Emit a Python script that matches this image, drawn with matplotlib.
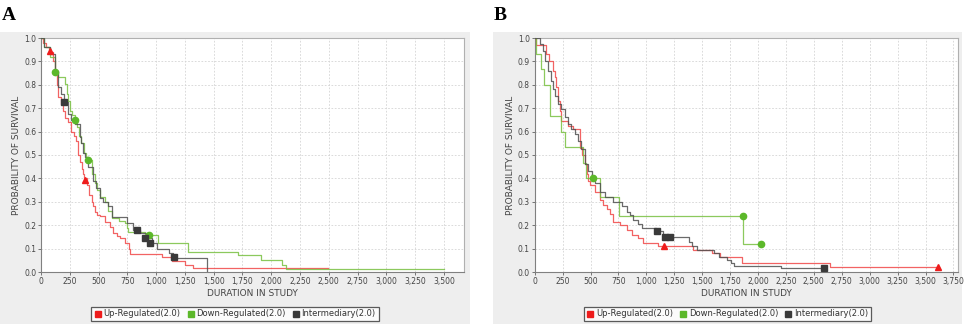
import numpy as np
import matplotlib
matplotlib.use("Agg")
import matplotlib.pyplot as plt
from matplotlib.lines import Line2D
from matplotlib.ticker import FuncFormatter, MultipleLocator

# ---- panel A : Kaplan-Meier steps (time, survival) ----
a_up_t = [0, 20, 45, 70, 100, 119, 136, 148, 170, 191, 210, 234, 263, 290, 307, 321, 340, 352, 362, 375,
          397, 420, 440, 455, 469, 490, 512, 556, 599, 628, 660, 686, 730, 760, 773, 1048, 1140, 1250, 1323, 2493]
a_up_s = [1.0, 0.98, 0.96, 0.94, 0.90, 0.84, 0.80, 0.75, 0.72, 0.69, 0.66, 0.64, 0.60, 0.58, 0.56, 0.50, 0.47, 0.44,
          0.42, 0.40, 0.37, 0.33, 0.30, 0.28, 0.258, 0.245, 0.24, 0.215, 0.194, 0.165, 0.155, 0.144, 0.122, 0.10,
          0.078, 0.062, 0.046, 0.032, 0.016, 0.016]
a_up_cens_t = [75, 382]
a_up_cens_s = [0.944, 0.393]

a_down_t = [0, 30, 80, 119, 148, 205, 222, 234, 249, 270, 292, 310, 330, 350, 370, 392, 411, 440, 465, 490,
            512, 560, 585, 614, 680, 729, 743, 758, 900, 1019, 1280, 1712, 1915, 2089, 2132, 3500]
a_down_s = [1.0, 0.96, 0.92, 0.856, 0.832, 0.803, 0.76, 0.73, 0.69, 0.67, 0.65, 0.62, 0.58, 0.55, 0.51, 0.49, 0.48,
            0.42, 0.38, 0.35, 0.32, 0.30, 0.26, 0.23, 0.22, 0.21, 0.19, 0.17, 0.158, 0.122, 0.087, 0.071, 0.053,
            0.028, 0.014, 0.014]
a_down_cens_t = [119, 292, 411, 941]
a_down_cens_s = [0.856, 0.65, 0.48, 0.158]

a_int_t = [0, 30, 80, 119, 148, 170, 200, 234, 262, 292, 336, 350, 365, 382, 410, 454, 480, 512, 540, 585, 614,
           744, 802, 860, 925, 960, 1005, 1114, 1150, 1438]
a_int_s = [1.0, 0.96, 0.93, 0.86, 0.79, 0.76, 0.728, 0.675, 0.65, 0.632, 0.575, 0.55, 0.51, 0.49, 0.45, 0.39, 0.36,
           0.315, 0.30, 0.28, 0.233, 0.208, 0.18, 0.165, 0.144, 0.125, 0.10, 0.08, 0.06, 0.0]
a_int_cens_t = [200, 837, 903, 947, 1158]
a_int_cens_s = [0.728, 0.18, 0.144, 0.125, 0.063]

# ---- panel B ----
b_up_t = [0, 10, 104, 131, 162, 179, 194, 209, 223, 238, 298, 343, 403, 410, 425, 450, 466, 480, 495, 540, 585,
          614, 645, 674, 704, 764, 824, 869, 928, 973, 1100, 1420, 1585, 1660, 1854, 2645, 3615]
b_up_s = [1.0, 0.97, 0.93, 0.90, 0.86, 0.832, 0.79, 0.73, 0.69, 0.647, 0.625, 0.611, 0.58, 0.53, 0.50, 0.46, 0.42,
          0.39, 0.37, 0.343, 0.308, 0.286, 0.27, 0.25, 0.215, 0.20, 0.18, 0.158, 0.144, 0.123, 0.111, 0.094, 0.08,
          0.063, 0.04, 0.02, 0.02]
b_up_cens_t = [1161, 3615]
b_up_cens_s = [0.111, 0.02]

b_down_t = [0, 10, 59, 83, 140, 238, 268, 437, 457, 585, 758, 1869, 2024]
b_down_s = [1.0, 0.933, 0.867, 0.80, 0.667, 0.60, 0.533, 0.467, 0.40, 0.32, 0.24, 0.12, 0.12]
b_down_cens_t = [519, 1869, 2024]
b_down_cens_s = [0.40, 0.24, 0.12]

b_int_t = [0, 45, 74, 90, 119, 149, 164, 179, 209, 238, 269, 298, 328, 358, 388, 417, 450, 480, 510, 540, 585,
           630, 704, 779, 824, 854, 883, 928, 958, 1085, 1150, 1382, 1412, 1457, 1606, 1651, 1726, 1756, 1785,
           2203, 2591]
b_int_s = [1.0, 0.974, 0.946, 0.90, 0.86, 0.818, 0.782, 0.753, 0.718, 0.697, 0.661, 0.632, 0.611, 0.59, 0.561,
           0.526, 0.46, 0.43, 0.41, 0.38, 0.343, 0.32, 0.30, 0.28, 0.258, 0.244, 0.222, 0.205, 0.19, 0.175, 0.151,
           0.13, 0.11, 0.095, 0.08, 0.065, 0.05, 0.04, 0.025, 0.015, 0.015]
b_int_cens_t = [1098, 1167, 1212, 2591]
b_int_cens_s = [0.175, 0.151, 0.151, 0.015]

group_names = ["Up-Regulated(2.0)", "Down-Regulated(2.0)", "Intermediary(2.0)"]
line_cols = ["#f04848", "#78c040", "#505050"]
mark_cols = ["#ee1c1c", "#5cb82a", "#3a3a3a"]
marks = ["^", "o", "s"]

W, H = 964, 324
fig = plt.figure(figsize=(W / 100, H / 100), dpi=100)
fig.patch.set_facecolor("white")


def fx(px):
    return px / W


def fy(py):
    return 1 - py / H


def panel(x0, x1, ax_l, ax_r, xmax, xtop, curves, letter):
    # grey chart background
    bg = fig.add_axes([fx(x0), 0, fx(x1 - x0), fy(32)], zorder=-10)
    bg.set_facecolor("#eeeeee")
    bg.set_xticks([])
    bg.set_yticks([])
    for sp in bg.spines.values():
        sp.set_visible(False)
    fig.text(fx(x0 + 2 if x0 == 0 else x0 + 1), fy(16), letter, family="Liberation Serif",
             weight="bold", fontsize=14, va="center", ha="left")
    ax = fig.add_axes([fx(ax_l), fy(272), fx(ax_r - ax_l), (272 - 38) / H])
    ax.set_facecolor("white")
    for i, (t, s, ct, cs) in enumerate(curves):
        ax.step(t, s, where="post", color=line_cols[i], lw=0.9, alpha=0.85, zorder=3)
        ax.plot(ct, cs, ls="none", marker=marks[i], color=mark_cols[i], ms=4.5, zorder=4, clip_on=False)
    ax.set_xlim(0, xmax)
    ax.set_ylim(0, 1.0)
    ax.yaxis.set_major_locator(MultipleLocator(0.1))
    ax.set_xticks(np.arange(0, xtop + 1, 250))
    ax.xaxis.set_major_formatter(FuncFormatter(lambda v, p: "{:,}".format(int(v))))
    ax.yaxis.set_major_formatter(FuncFormatter(lambda v, p: "{:.1f}".format(v)))
    ax.grid(True, color="#d4d4d4", ls=(0, (2, 2)), lw=0.6)
    ax.set_axisbelow(True)
    ax.tick_params(labelsize=5.5, length=2, width=0.5, pad=1.5, colors="#444444")
    for sp in ax.spines.values():
        sp.set_color("#b0b0b0")
        sp.set_linewidth(0.8)
    ax.spines["left"].set_color("#808080")
    ax.spines["bottom"].set_color("#808080")
    ax.set_xlabel("DURATION IN STUDY", fontsize=6.5, color="#444444", labelpad=2)
    ax.set_ylabel("PROBABILITY OF SURVIVAL", fontsize=6.5, color="#444444", labelpad=2)
    handles = [Line2D([], [], ls="none", marker="s", color=mark_cols[i], ms=5) for i in range(3)]
    leg = fig.legend(handles, group_names, loc="center", bbox_to_anchor=(fx((x0 + x1) / 2), fy(314)),
                     ncol=3, fontsize=6, frameon=True, fancybox=False, handlelength=0.8,
                     handletextpad=0.3, columnspacing=0.8, borderpad=0.35, borderaxespad=0)
    leg.get_frame().set_edgecolor("#333333")
    leg.get_frame().set_linewidth(0.9)
    for txt in leg.get_texts():
        txt.set_color("#333333")
    return ax


panel(0, 470, 41, 464, 3674, 3500,
      [(a_up_t, a_up_s, a_up_cens_t, a_up_cens_s),
       (a_down_t, a_down_s, a_down_cens_t, a_down_cens_s),
       (a_int_t, a_int_s, a_int_cens_t, a_int_cens_s)], "A")
panel(493, 962, 534.7, 958, 3791, 3750,
      [(b_up_t, b_up_s, b_up_cens_t, b_up_cens_s),
       (b_down_t, b_down_s, b_down_cens_t, b_down_cens_s),
       (b_int_t, b_int_s, b_int_cens_t, b_int_cens_s)], "B")

fig.savefig("out.png", dpi=100)
